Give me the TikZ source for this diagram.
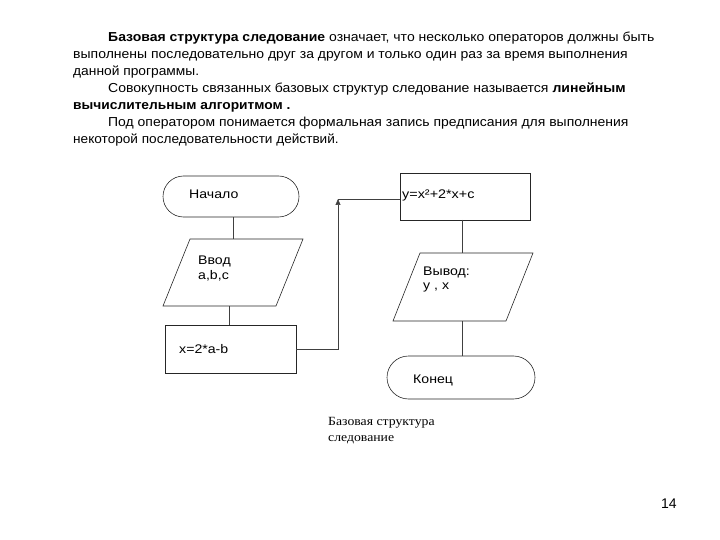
\documentclass[tikz,border=0pt]{standalone}
\usepackage{graphicx}
\usepackage{fontspec}
\setmainfont{Liberation Sans}
\newfontfamily\capfont{Liberation Serif}
\usetikzlibrary{shapes.misc,arrows.meta}
\newcommand\myhs[2]{\scalebox{#1}[1]{#2}}
\begin{document}
\begin{tikzpicture}[x=1pt,y=-1pt,
  shapeline/.style={draw=black!85,line width=0.6pt},
  conn/.style={draw=black!75,line width=0.6pt},
  para/.style={anchor=base west,inner sep=0pt,font=\fontsize{13}{16}\selectfont},
  lbl/.style={anchor=base west,inner sep=0pt,font=\fontsize{12.5}{14}\selectfont},
  captxt/.style={anchor=base west,inner sep=0pt,font=\capfont\fontsize{12.5}{16}\selectfont},
  term/.style={shapeline,rounded rectangle,inner sep=0pt},
  box/.style={shapeline,rectangle,inner sep=0pt}]
\useasboundingbox (0,0) rectangle (720,540);
% text
\node[para] (l1) at (108,42) {\myhs{1.077}{\textbf{Базовая структура следование} означает, что несколько операторов должны быть}};
\node[para] (l2) at (73,59) {\myhs{1.076}{выполнены последовательно друг за другом и только один раз за время выполнения}};
\node[para] (l3) at (73,76) {\myhs{1.06}{данной программы.}};
\node[para] (l4) at (108,93) {\myhs{1.079}{Совокупность связанных базовых структур следование называется \textbf{линейным}}};
\node[para] (l5) at (73,110) {\myhs{1.059}{\textbf{вычислительным алгоритмом .}}};
\node[para] (l6) at (108,127) {\myhs{1.074}{Под оператором понимается формальная запись предписания для выполнения}};
\node[para] (l7) at (73,144) {\myhs{1.047}{некоторой последовательности действий.}};
% flowchart
\node[term,minimum width=136pt,minimum height=41pt] (start) at (231,196.5) {};
\node[lbl] (tstart) at (189,199) {\myhs{1.13}{Начало}};
\draw[shapeline] (190,239) -- (303,239) -- (276,306) -- (163,306) -- cycle;
\coordinate (inTop) at (233,239);
\coordinate (inBot) at (229,306);
\node[lbl] (tin1) at (198,264) {\myhs{1.13}{Ввод}};
\node[lbl] (tin2) at (198,279) {\myhs{1.13}{a,b,c}};
\node[box,minimum width=131pt,minimum height=48pt] (calc1) at (230.5,349) {};
\node[lbl] (tcalc1) at (179,353) {\myhs{1.13}{x=2*a-b}};
\coordinate (c1Top) at (229,325);
\coordinate (c1Right) at (296,349);
\coordinate (turn) at (338,349);
\coordinate (tip) at (338,199);
\node[box,minimum width=130pt,minimum height=47pt] (calc2) at (465,196.5) {};
\node[lbl] (tcalc2) at (402,199) {\myhs{1.15}{y=x²+2*x+c}};
\coordinate (c2Left) at (400,199);
\coordinate (c2Bot) at (462,220);
\draw[shapeline] (420,253) -- (533,253) -- (506,321) -- (393,321) -- cycle;
\coordinate (outTop) at (462,253);
\coordinate (outBot) at (462,321);
\node[lbl] (tout1) at (423,275) {\myhs{1.13}{Вывод:}};
\node[lbl] (tout2) at (423,289) {\myhs{1.13}{y , x}};
\node[term,minimum width=148pt,minimum height=43pt] (end) at (461,377.5) {};
\node[lbl] (tend) at (413,383) {\myhs{1.13}{Конец}};
% connectors
\draw[conn] (start.south -| inTop) -- (inTop);
\draw[conn] (inBot) -- (c1Top);
\draw[conn,-{Triangle[length=6pt,width=5pt]}] (c1Right) -- (turn) -- (tip);
\draw[conn] (tip) -- (c2Left);
\draw[conn] (c2Bot) -- (outTop);
\draw[conn] (outBot) -- (end.north -| outBot);
% caption
\node[captxt] (cap1) at (328,425) {\myhs{1.1}{Базовая структура}};
\node[captxt] (cap2) at (328,441) {\myhs{1.1}{следование}};
\node[anchor=base west,inner sep=0pt,font=\fontsize{14}{16}\selectfont] (pnum) at (661,508) {14};
\end{tikzpicture}
\end{document}
